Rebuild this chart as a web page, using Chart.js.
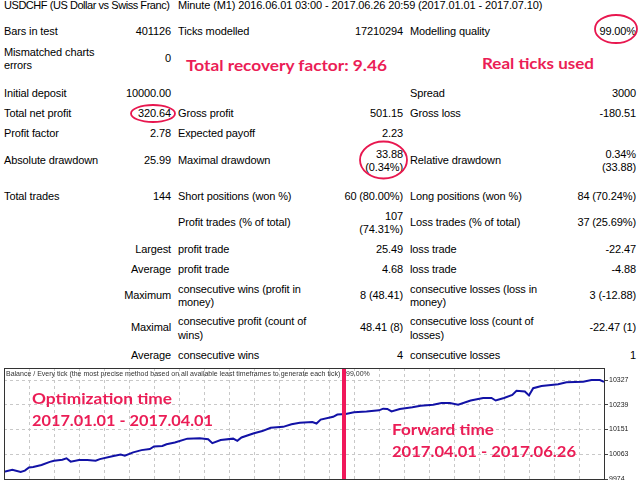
<!DOCTYPE html>
<html>
<head>
<meta charset="utf-8">
<script src="https://cdn.jsdelivr.net/npm/chart.js@4.4.1/dist/chart.umd.min.js"></script>
<style>
  html, body { margin: 0; padding: 0; width: 640px; height: 480px; overflow: hidden; background: #fff; }
  body { position: relative; font-family: "Liberation Sans", Arial, sans-serif; font-size: 11px; color: #000; }
  .c { position: absolute; white-space: pre; line-height: 13.5px; letter-spacing: -0.12px; transform: translateY(-50%); }
  .r { text-align: right; }
  .note { position: absolute; color: #eb1d56; font-family: Lato, sans-serif; font-weight: bold; font-size: 16px;
          white-space: pre; line-height: 1; transform-origin: left center; z-index: 3; }
  #wrap { position: absolute; left: 0; top: 360px; width: 640px; height: 130px; }
  svg { position: absolute; left: 0; top: 0; z-index: 4; }
</style>
</head>
<body>
<div id="report"></div>
<div id="wrap"><canvas id="balanceChart"></canvas></div>
<svg width="640" height="480">
  <ellipse cx="616" cy="29" rx="21" ry="14" fill="none" stroke="#e8174f" stroke-width="1.8"/>
  <ellipse cx="153" cy="113.5" rx="22" ry="8.5" fill="none" stroke="#e8174f" stroke-width="1.8"/>
  <ellipse cx="383.5" cy="160" rx="23.5" ry="18.5" fill="none" stroke="#e8174f" stroke-width="1.8"/>
</svg>
<script>
// balance curve (x = trade number)
const tradeNo = [0, 2, 4, 5, 6, 7, 9, 11, 12, 14, 15, 16, 18, 20, 22, 23, 26, 28, 29, 31,
  33, 35, 36, 38, 39, 41, 44, 47, 48, 49, 50, 52, 55, 56, 57, 60, 62, 64, 67, 69,
  71, 74, 75, 76, 79, 80, 82, 84, 87, 90, 91, 92, 93, 95, 98, 100, 103, 105, 107, 109,
  112, 115, 117, 118, 120, 122, 123, 125, 126, 127, 129, 133, 135, 139, 141, 143, 144];
const balance = [10000, 10007, 9999, 10004, 10015, 10017, 10024, 10035, 10039, 10043, 10048, 10036, 10042, 10042, 10039, 10045, 10055, 10061, 10057, 10069,
  10077, 10081, 10090, 10092, 10098, 10104, 10118, 10119, 10118, 10116, 10102, 10113, 10118, 10110, 10122, 10137, 10145, 10157, 10160, 10169,
  10175, 10177, 10172, 10186, 10196, 10204, 10206, 10212, 10215, 10219, 10225, 10224, 10215, 10224, 10230, 10235, 10239, 10245, 10245, 10239,
  10254, 10263, 10263, 10254, 10263, 10274, 10289, 10286, 10272, 10298, 10306, 10312, 10319, 10321, 10327, 10327, 10321];
const yTicks = [10327, 10239, 10151, 10063, 9974];
const yMin = 9974, yMax = 10370;
const totalTrades = 144;
const splitTrade = 81.6;   // 2017.04.01, end of optimization period
const caption = 'Balance / Every tick (the most precise method based on all available least timeframes to generate each tick) / 99.00%';

// report table: [y, label, value, label, value, label, value]
const rows = [
  [32, 'Bars in test', '401126', 'Ticks modelled', '17210294', 'Modelling quality', '99.00%'],
  [58.5, 'Mismatched charts\nerrors', '0', '', '', '', ''],
  [94, 'Initial deposit', '10000.00', '', '', 'Spread', '3000'],
  [114, 'Total net profit', '320.64', 'Gross profit', '501.15', 'Gross loss', '-180.51'],
  [134, 'Profit factor', '2.78', 'Expected payoff', '2.23', '', ''],
  [160.5, 'Absolute drawdown', '25.99', 'Maximal drawdown', '33.88\n(0.34%)', 'Relative drawdown', '0.34%\n(33.88)'],
  [196.5, 'Total trades', '144', 'Short positions (won %)', '60 (80.00%)', 'Long positions (won %)', '84 (70.24%)'],
  [222.5, '', '', 'Profit trades (% of total)', '107\n(74.31%)', 'Loss trades (% of total)', '37 (25.69%)'],
  [249.5, '', 'Largest', 'profit trade', '25.49', 'loss trade', '-22.47'],
  [269.5, '', 'Average', 'profit trade', '4.68', 'loss trade', '-4.88'],
  [295.5, '', 'Maximum', 'consecutive wins (profit in\nmoney)', '8 (48.41)', 'consecutive losses (loss in\nmoney)', '3 (-12.88)'],
  [328, '', 'Maximal', 'consecutive profit (count of\nwins)', '48.41 (8)', 'consecutive loss (count of\nlosses)', '-22.47 (1)'],
  [355.5, '', 'Average', 'consecutive wins', '4', 'consecutive losses', '1']
];
const colLeft = [4, 178, 410];
const colRight = [171, 403, 636];

const notes = [
  // [text, x, y, width]
  ['Total recovery factor: 9.46', 186, 65, 201],
  ['Real ticks used', 482, 63, 112],
  ['Optimization time', 32, 397.5, 140],
  ['2017.01.01 - 2017.04.01', 32, 420, 181],
  ['Forward time', 392, 429, 102],
  ['2017.04.01 - 2017.06.26', 392, 451, 184]
];

const report = document.getElementById('report');
function cell(text, x, y, right) {
  const d = document.createElement('div');
  d.className = right ? 'c r' : 'c';
  d.textContent = text;
  d.style.top = y + 'px';
  if (right) d.style.right = (640 - x) + 'px'; else d.style.left = x + 'px';
  report.appendChild(d);
  return d;
}
cell('USDCHF (US Dollar vs Swiss Franc)', 4, 6, false).style.letterSpacing = '-0.45px';
cell('Minute (M1) 2016.06.01 03:00 - 2017.06.26 20:59 (2017.01.01 - 2017.07.10)', 178, 6, false);
rows.forEach(r => {
  for (let k = 0; k < 3; k++) {
    if (r[1 + k * 2]) cell(r[1 + k * 2], colLeft[k], r[0], false);
    if (r[2 + k * 2]) cell(r[2 + k * 2], colRight[k], r[0], true);
  }
});

notes.forEach(([text, x, y, w]) => {
  const d = document.createElement('div');
  d.className = 'note';
  d.textContent = text;
  d.style.left = x + 'px';
  d.style.top = y + 'px';
  document.body.appendChild(d);
  const k = w / d.getBoundingClientRect().width;
  d.style.transform = 'translateY(-50%) scaleX(' + k + ')';
});

const frame = {
  id: 'frame',
  beforeDatasetsDraw(chart) {
    const { ctx, chartArea: a } = chart;
    ctx.save();
    ctx.font = '7px "Liberation Sans"';
    ctx.fillStyle = '#333';
    ctx.textBaseline = 'middle';
    ctx.fillText(caption, a.left + 2, a.top + 6, 381);
    ctx.restore();
  },
  afterDraw(chart) {
    const { ctx, chartArea: a } = chart;
    ctx.save();
    ctx.strokeStyle = '#333';
    ctx.lineWidth = 1;
    ctx.strokeRect(a.left + 0.5, a.top + 0.5, a.right - a.left, a.bottom - a.top);
    ctx.restore();
  }
};

const ctx = document.getElementById('balanceChart').getContext('2d');
const balanceChart = new Chart(ctx, {
  type: 'line',
  data: {
    datasets: [{
      data: [{ x: splitTrade, y: yMin }, { x: splitTrade, y: yMax }],
      borderColor: '#f0185a',
      borderWidth: 4,
      pointRadius: 0,
      order: 0
    }, {
      data: tradeNo.map((t, i) => ({ x: t, y: balance[i] })),
      borderColor: '#1212a6',
      borderWidth: 2,
      pointRadius: 0,
      tension: 0,
      order: 1
    }]
  },
  options: {
    responsive: true,
    maintainAspectRatio: false,
    animation: false,
    layout: { padding: { left: 4, top: 8, right: 0, bottom: 11 } },
    plugins: { legend: { display: false }, tooltip: { enabled: false } },
    scales: {
      x: {
        type: 'linear',
        min: 0,
        max: totalTrades,
        ticks: { display: false, stepSize: 6 },
        grid: { color: '#c8c8c8', drawTicks: false },
        border: { display: false, dash: [3, 3] },
        afterFit(scale) { scale.height = 0; }
      },
      y: {
        position: 'right',
        min: yMin,
        max: yMax,
        afterBuildTicks(scale) { scale.ticks = yTicks.map(v => ({ value: v })); },
        afterFit(scale) { scale.width = 36; },
        ticks: {
          padding: 1, color: '#222', font: { family: 'Liberation Sans', size: 7 },
          callback: v => String(v)
        },
        grid: { color: '#c8c8c8', tickLength: 4, tickColor: '#444', tickBorderDash: [] },
        border: { display: false, dash: [3, 3] }
      }
    }
  },
  plugins: [frame]
});
</script>
</body>
</html>
